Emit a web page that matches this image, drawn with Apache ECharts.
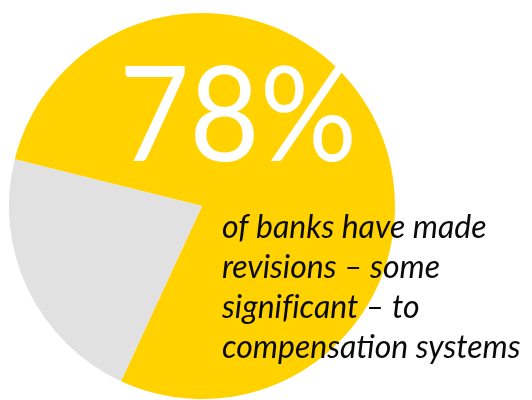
<!DOCTYPE html>
<html>
<head>
<meta charset="utf-8">
<script src="https://cdn.jsdelivr.net/npm/echarts@6/dist/echarts.min.js"></script>
<style>
  html, body { margin: 0; padding: 0; background: #ffffff; }
  #chart { width: 532px; height: 400px; }
</style>
</head>
<body>
<div id="chart"></div>
<script>
// Share of banks that revised compensation systems
const categories = ['Made revisions', 'No revisions'];
const values = [78, 22];
const sliceColors = ['#FFD200', '#E1E1E1'];
const captionLines = [
  'of banks have made',
  'revisions \u2013 some',
  'significant \u2013 to',
  'compensation systems'
];

// keep "f" and "i" as separate glyphs (no fi ligature)
const noLigature = s => s.replace(/fi/g, 'f\u200Ci');

const chart = echarts.init(document.getElementById('chart'), null, { renderer: 'canvas' });

const pieData = categories.map((name, i) => ({
  name: name,
  value: values[i],
  itemStyle: { color: sliceColors[i] }
}));

chart.setOption({
  animation: false,
  backgroundColor: '#ffffff',
  series: [{
    type: 'pie',
    z: 1,
    center: [202, 206],
    radius: 193,
    startAngle: 166,
    clockwise: true,
    label: { show: false },
    labelLine: { show: false },
    emphasis: { disabled: true },
    itemStyle: { borderWidth: 0 },
    data: pieData
  }],
  graphic: {
    elements: [
      {
        type: 'text',
        z: 100,
        x: 238,
        y: 118,
        scaleX: 0.92,
        style: {
          text: values[0] + '%',
          fill: '#ffffff',
          font: '400 132px Lato, "Open Sans", sans-serif',
          align: 'center',
          verticalAlign: 'middle'
        }
      },
      {
        type: 'text',
        z: 100,
        x: 222,
        y: 208,
        style: {
          text: captionLines.map(noLigature).join('\n'),
          fill: '#0a0a0a',
          font: 'italic 32px Lato, "Open Sans", sans-serif',
          lineHeight: 40,
          align: 'left',
          verticalAlign: 'top'
        }
      }
    ]
  }
});
</script>
</body>
</html>
